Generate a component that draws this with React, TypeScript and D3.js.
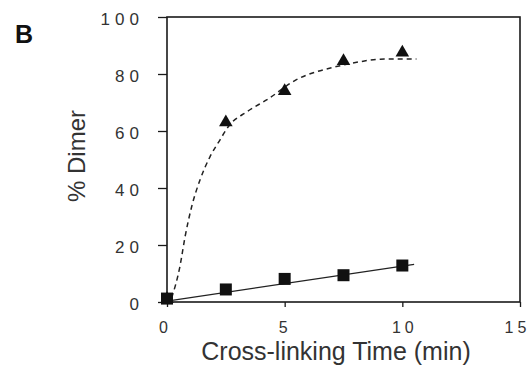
import * as d3 from 'd3';
import React, { useEffect, useRef } from 'react';

// measured points (min, % dimer)
const times = [0, 2.5, 5, 7.5, 10];
const triangleValues = [1, 63, 74, 84.5, 87.5];
const squareValues = [1.2, 4.4, 8.1, 9.4, 12.8];

// fitted curves
const dashedFit: [number, number][] = [
    [0.2, 1.5], [0.55, 12.5], [0.77, 23], [1.05, 33.5], [1.41, 43], [1.83, 51],
    [2.26, 57], [2.61, 61.6], [3.4, 66.8], [4.25, 71], [5.5, 78], [7.2, 82.6],
    [8.2, 84.3], [9.07, 85.2], [10.6, 85.3],
];
const solidFit: [number, number][] = [[0, 0.3], [10.5, 13.2]];

const yTicks = [0, 20, 40, 60, 80, 100];
const xTicks = [0, 5, 10, 15];

const W = 529;
const H = 376;

// old plotting software spaced the digits out; do it with tspans so there is no trailing gap
function spaceDigits(sel: d3.Selection<any, any, any, any>, gap: number, shift: (d: any) => number = () => 0) {
    sel.each(function (d) {
        const t = d3.select(this);
        const chars = t.text().split('');
        t.text('');
        chars.forEach((c, i) => {
            t.append('tspan').attr('dx', i === 0 ? shift(d) : gap).text(c);
        });
    });
}

export default function App() {
    const svgRef = useRef<SVGSVGElement>(null);

    useEffect(() => {
        const svg = d3.select(svgRef.current);
        svg.selectAll('*').remove();

        const x = d3.scaleLinear().domain([0, 15]).range([167, 520]);
        const y = d3.scaleLinear().domain([0, 100]).range([302, 17]);
        const ink = '#1a1a1a';
        const textInk = '#333';
        const font = '"Liberation Sans", Arial, sans-serif';

        // --- Frame ---
        svg.append('rect')
            .attr('x', x(0)).attr('y', y(100))
            .attr('width', x(15) - x(0)).attr('height', y(0) - y(100))
            .attr('fill', 'none').attr('stroke', ink).attr('stroke-width', 1.6);

        // --- Y axis ---
        const yAxis = d3.axisLeft(y).tickValues(yTicks).tickSize(9).tickPadding(19)
            .tickFormat(d => String(d));
        const gy = svg.append('g').attr('transform', `translate(${x(0)},0)`).call(yAxis);
        gy.select('.domain').remove();
        gy.selectAll('line').attr('stroke', ink).attr('stroke-width', 1.3);
        gy.selectAll('text')
            .attr('fill', textInk)
            .style('font-family', font)
            .style('font-size', '17px')
            .attr('dy', '0.45em');
        spaceDigits(gy.selectAll('text'), 5);

        // --- X axis ---
        const xAxis = d3.axisBottom(x).tickValues(xTicks).tickSize(5).tickPadding(15)
            .tickFormat(d => String(d));
        const gx = svg.append('g').attr('transform', `translate(0,${y(0)})`).call(xAxis);
        gx.select('.domain').remove();
        gx.selectAll('line').attr('stroke', ink).attr('stroke-width', 1.3);
        gx.selectAll('text')
            .attr('fill', textInk)
            .style('font-family', font)
            .style('font-size', '16px');
        const nudge: Record<number, number> = { 0: -4, 5: -2, 10: 0, 15: -5 };
        spaceDigits(gx.selectAll('text'), 4, d => nudge[d] ?? 0);

        // --- Axis labels ---
        svg.append('text')
            .attr('x', 336).attr('y', 360)
            .attr('text-anchor', 'middle')
            .attr('fill', textInk)
            .style('font-family', font)
            .style('font-size', '25px')
            .text('Cross-linking Time (min)');

        svg.append('text')
            .attr('transform', 'translate(85,156) rotate(-90)')
            .attr('text-anchor', 'middle')
            .attr('fill', textInk)
            .style('font-family', font)
            .style('font-size', '24px')
            .text('% Dimer');

        svg.append('text')
            .attr('x', 15).attr('y', 43)
            .attr('fill', '#111')
            .style('font-family', font)
            .style('font-size', '25px')
            .style('font-weight', 'bold')
            .text('B');

        // --- Fit lines ---
        const line = d3.line<[number, number]>().x(d => x(d[0])).y(d => y(d[1])).curve(d3.curveMonotoneX);
        svg.append('path')
            .attr('d', line(dashedFit))
            .attr('fill', 'none').attr('stroke', '#222')
            .attr('stroke-width', 1.5).attr('stroke-dasharray', '5,4');
        svg.append('path')
            .attr('d', line(solidFit))
            .attr('fill', 'none').attr('stroke', '#222')
            .attr('stroke-width', 1.3);

        // --- Markers ---
        const tri = d3.symbol().type(d3.symbolTriangle).size(80);
        svg.selectAll('.tri')
            .data(times.map((t, i) => [t, triangleValues[i]]))
            .join('path')
            .attr('class', 'tri')
            .attr('d', tri())
            .attr('transform', d => `translate(${x(d[0])},${y(d[1])})`)
            .attr('fill', '#111');

        const sq = 12;
        svg.selectAll('.sq')
            .data(times.map((t, i) => [t, squareValues[i]]))
            .join('rect')
            .attr('class', 'sq')
            .attr('x', d => x(d[0]) - sq / 2)
            .attr('y', d => y(d[1]) - sq / 2)
            .attr('width', sq).attr('height', sq)
            .attr('fill', '#111');
    }, []);

    return (
        <div style={{ position: 'absolute', left: 0, top: 0, width: W, height: H, background: '#fff' }}>
            <svg ref={svgRef} width={W} height={H}></svg>
        </div>
    );
}
